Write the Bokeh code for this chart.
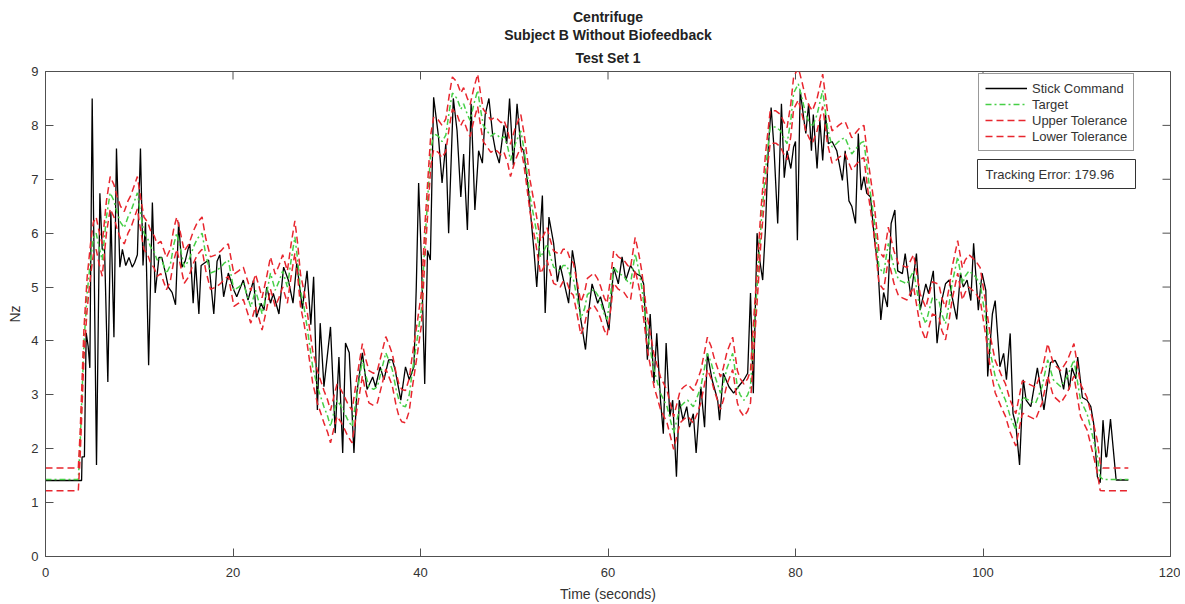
import numpy as np
from bokeh.plotting import figure
from bokeh.models import (Range1d, Title, Legend, LegendItem, Label,
                          BoxAnnotation, FixedTicker)
from bokeh.embed import file_html
from bokeh.resources import INLINE

# ---------------- data ----------------
target_t = [0, 3.5, 3.7, 4.1, 4.45, 4.8, 5.1, 5.4, 5.7, 6.05, 6.5, 6.9, 7.3, 7.6, 8.0, 8.4, 8.8, 9.1, 9.5, 9.8,
            10.2, 10.5, 10.9, 11.2, 11.6, 11.9, 12.3, 12.6, 12.9, 13.3, 13.7, 14.0, 14.4, 14.8, 15.3, 15.8,
            16.2, 16.7, 17.1, 17.6, 18.2, 18.7, 19.1, 19.5, 20.1, 20.6, 21.1, 21.5, 21.9, 22.4, 22.8, 23.1,
            23.6, 24.0, 24.5, 24.9, 25.3, 25.8, 26.2, 26.6, 26.9, 27.2, 27.6, 27.9, 28.5, 29.0, 29.7, 30.1,
            30.4, 30.8, 31.1, 31.5, 31.8, 32.2, 32.7, 33.2, 33.8, 34.1, 34.5, 35.0, 35.4, 35.9, 36.3, 36.6,
            37.0, 37.4, 37.7, 38.0, 38.4, 38.8, 39.1, 39.7, 40.1, 40.5, 41.1, 41.4, 41.9, 42.3, 42.7, 43.1,
            43.4, 43.9, 44.3, 44.6, 45.0, 45.3, 45.7, 46.1, 46.4, 46.7, 47.1, 47.5, 47.9, 48.2, 48.6, 48.9,
            49.3, 49.6, 50.1, 50.7, 51.0, 51.2, 51.7, 52.3, 52.8, 53.1, 53.5, 53.8, 54.2, 54.9, 55.2, 55.6,
            56.0, 56.3, 56.7, 57.1, 57.5, 57.8, 58.5, 58.9, 59.2, 59.6, 59.9, 60.3, 60.6, 61.1, 61.7, 62.1,
            62.4, 62.7, 62.9, 63.3, 63.6, 64.2, 64.9, 65.6, 66.3, 66.7, 67.0, 67.3, 67.7, 68.1, 68.5, 69.1,
            69.5, 69.9, 70.3, 70.6, 71.0, 71.3, 72.0, 72.3, 72.7, 73.3, 73.8, 74.1, 74.5, 74.9, 75.2, 75.5,
            75.9, 76.3, 76.8, 77.3, 77.9, 78.4, 78.8, 79.1, 79.5, 79.8, 80.3, 80.7, 81.1, 81.5, 81.8, 82.3,
            82.9, 83.4, 83.9, 84.3, 84.6, 85.0, 85.3, 85.7, 86.0, 86.6, 87.0, 87.3, 87.8, 88.4, 88.9, 89.4,
            89.9, 90.5, 91.0, 91.4, 91.9, 92.3, 92.6, 93.3, 93.9, 94.3, 94.6, 95.3, 95.6, 96.0, 96.4, 96.7,
            97.3, 97.8, 98.1, 98.5, 99.2, 99.7, 100.3, 100.8, 101.3, 101.9, 102.4, 102.9, 103.5, 103.9,
            104.2, 104.9, 105.6, 106.3, 106.9, 107.5, 108.3, 109.0, 109.7, 110.4, 111.1, 111.8, 112.2,
            112.5, 112.8, 115.5]
target_v = [1.43, 1.43, 2.1, 3.96, 4.9, 5.5, 5.9, 6.0, 5.75, 5.5, 6.3, 6.75, 6.6, 6.4, 6.2, 6.1, 6.3, 6.4, 6.6, 6.75,
            6.3, 6.0, 5.9, 5.75, 5.65, 5.5, 5.55, 5.4, 5.25, 5.4, 5.8, 6.0, 5.7, 5.37, 5.5, 5.75,
            5.9, 6.0, 5.6, 5.26, 5.3, 5.37, 5.45, 5.5, 4.94, 5.0, 5.07, 4.85, 4.63, 4.94, 4.7, 4.5,
            4.9, 5.26, 4.94, 5.1, 5.3, 5.0, 5.5, 5.93, 5.5, 4.94, 4.6, 4.26, 3.52, 3.15, 2.78, 2.6,
            2.41, 2.7, 2.9, 2.8, 2.7, 2.55, 2.41, 3.0, 3.65, 3.4, 3.15, 3.1, 3.15, 3.5, 3.78, 3.65,
            3.46, 3.1, 2.9, 2.8, 2.78, 3.0, 3.4, 4.1, 4.6, 5.93, 7.54, 7.85, 7.8, 7.7, 7.82, 8.3,
            8.6, 8.5, 8.3, 8.4, 8.2, 8.09, 8.4, 8.65, 8.3, 8.0, 7.9, 7.8, 7.85, 7.82, 7.75, 7.8,
            7.6, 7.35, 7.65, 7.9, 7.6, 7.35, 6.67, 6.1, 5.55, 5.65, 5.8, 5.6, 5.37, 5.3, 5.4, 5.4,
            5.2, 5.15, 4.8, 4.42, 4.6, 4.86, 4.96, 4.85, 4.72, 4.5, 4.4, 4.9, 5.37, 5.26, 5.2, 5.1,
            5.06, 5.4, 5.62, 5.3, 5.0, 4.14, 3.46, 3.03, 2.78, 2.5, 2.29, 2.5, 2.78, 2.85, 2.9, 2.78,
            2.95, 3.15, 3.5, 3.77, 3.6, 3.4, 3.03, 3.2, 3.5, 3.77, 3.15, 3.0, 2.9, 3.0, 3.15, 4.0,
            5.0, 6.1, 7.17, 7.97, 7.97, 7.9, 7.75, 7.66, 8.1, 8.6, 8.77, 8.5, 8.2, 8.05, 7.97, 8.2,
            8.65, 7.97, 7.6, 7.65, 7.7, 7.75, 7.77, 7.6, 7.47, 7.6, 7.68, 7.7, 6.98, 6.24, 5.37, 5.25,
            5.81, 5.37, 5.13, 5.1, 5.06, 5.2, 5.3, 4.57, 4.32, 4.6, 4.8, 4.75, 4.5, 4.32, 4.7, 5.06,
            5.56, 5.06, 5.2, 5.3, 5.19, 5.06, 4.39, 3.77, 3.34, 3.09, 2.9, 2.6, 2.35, 2.7,
            2.96, 2.9, 2.84, 3.15, 3.65, 3.28, 3.15, 3.34, 3.65, 2.9, 2.65, 2.16, 1.85,
            1.48, 1.43, 1.43]

stick_t = [0, 3.85, 3.9, 4.15, 4.34, 4.55, 4.73, 4.98, 5.44, 5.8, 6.05, 6.3, 6.65, 6.97, 7.3, 7.57, 7.93, 8.2,
           8.56, 8.9, 9.25, 9.5, 9.8, 10.13, 10.4, 10.67, 11.0, 11.4, 11.7, 12.1, 12.4, 12.8, 13.1, 13.5,
           13.87, 14.2, 14.55, 14.9, 15.2, 15.4, 15.75, 16.0, 16.36, 16.6, 17.0, 17.4, 17.95, 18.3, 18.6,
           19.0, 19.5, 20.1, 20.4, 21.1, 21.6, 22.2, 22.5, 23.0, 23.3, 23.6, 24.0, 24.3, 24.9, 25.4, 25.9,
           26.4, 26.8, 27.4, 27.9, 28.3, 28.6, 29.0, 29.3, 29.7, 30.4, 30.9, 31.3, 31.7, 32.0, 32.4, 32.9,
           33.2, 33.8, 34.3, 34.9, 35.2, 35.7, 36.1, 36.6, 37.0, 37.3, 37.9, 38.4, 38.8, 39.3, 39.55, 39.8,
           40.1, 40.45, 40.75, 41.05, 41.4, 41.9, 42.3, 42.7, 43.0, 43.5, 43.9, 44.3, 44.6, 45.0, 45.4,
           45.8, 46.2, 46.6, 46.9, 47.3, 47.7, 48.0, 48.4, 48.9, 49.2, 49.5, 49.9, 50.3, 50.7, 51.0, 51.5,
           52.1, 52.4, 53.0, 53.3, 53.7, 54.2, 54.6, 54.9, 55.5, 55.8, 56.2, 56.5, 57.1, 57.6, 57.95,
           58.3, 58.9, 59.2, 59.7, 60.1, 60.6, 61.1, 61.5, 61.9, 62.4, 62.9, 63.5, 63.8, 64.2, 64.5, 64.9,
           65.2, 65.6, 65.9, 66.2, 66.6, 66.9, 67.3, 67.6, 68.0, 68.4, 68.7, 69.1, 69.4, 69.9, 70.3, 70.6,
           71.1, 71.7, 71.9, 72.3, 72.9, 73.4, 73.9, 74.5, 74.9, 75.2, 75.5, 75.9, 76.1, 76.5, 76.8, 77.1,
           77.4, 77.7, 78.1, 78.5, 78.8, 79.1, 79.5, 79.8, 80.0, 80.2, 80.5, 80.9, 81.1, 81.4, 81.7, 81.9,
           82.3, 82.6, 82.9, 83.2, 83.5, 83.9, 84.4, 85.0, 85.3, 85.7, 86.0, 86.4, 86.7, 87.0, 87.3, 87.6,
           88.0, 88.4, 88.8, 89.1, 89.4, 89.8, 90.2, 90.6, 90.9, 91.4, 91.7, 92.3, 92.9, 93.3, 93.9, 94.2,
           94.7, 95.1, 95.6, 96.0, 96.4, 96.7, 97.2, 97.6, 97.9, 98.3, 98.7, 99.0, 99.5, 99.9, 100.3,
           100.5, 101.0, 101.3, 101.8, 102.2, 102.5, 102.9, 103.2, 103.5, 103.9, 104.3, 104.6, 105.1,
           105.8, 106.5, 107.2, 107.7, 108.1, 108.6, 108.9, 109.2, 109.5, 109.9, 110.1, 110.6, 111.1,
           111.5, 111.8, 112.2, 112.5, 112.8, 113.1, 113.2, 113.6, 114.2, 115.5]
stick_v = [1.41, 1.41, 1.85, 1.85, 4.15, 3.9, 3.5, 8.5, 1.7, 6.74, 5.7, 5.7, 3.24, 6.4, 4.07, 7.57, 5.37, 5.7,
           5.4, 5.55, 5.37, 5.45, 5.6, 7.57, 5.4, 6.2, 3.55, 6.57, 4.89, 5.55, 5.55, 5.26, 5.0, 4.9,
           4.67, 6.2, 5.37, 5.48, 5.7, 5.8, 4.7, 5.48, 4.5, 5.4, 5.45, 5.5, 4.5, 5.48, 5.6,
           4.82, 5.26, 4.94, 4.82, 5.13, 4.76, 5.13, 4.44, 4.7, 4.57, 5.0, 4.7, 4.88, 4.5, 5.37, 5.13,
           4.7, 5.44, 4.6, 5.3, 4.3, 5.19, 2.72, 4.33, 3.15, 4.26, 2.29, 3.7, 1.92, 3.96, 3.78, 1.92,
           3.03, 3.78, 3.1, 3.33, 3.15, 3.52, 3.28, 3.65, 3.65, 3.46, 2.9, 3.52, 3.28, 3.52, 5.0, 6.93,
           5.5, 3.2, 5.68, 5.5, 8.52, 7.82, 6.93, 7.66, 6.0, 8.5, 7.9, 6.67, 7.47, 6.06, 8.4,
           6.43, 7.53, 7.3, 8.2, 8.5, 7.82, 7.53, 7.3, 8.0, 7.66, 8.5, 7.26, 8.4, 7.6, 7.53, 6.82,
           5.68, 5.0, 6.7, 4.52, 6.3, 5.81, 5.1, 5.4, 4.94, 4.7, 5.68, 5.37, 4.4, 3.84, 4.57,
           5.06, 4.7, 4.82, 4.5, 4.2, 5.37, 5.06, 5.56, 5.13, 5.4, 5.26, 5.2, 5.06, 3.65, 4.5, 3.22,
           4.14, 2.9, 2.28, 3.96, 2.6, 2.9, 1.48, 2.9, 2.53, 2.78, 2.4, 2.65, 1.92, 3.15, 2.4, 3.77,
           3.28, 2.9, 2.53, 3.4, 3.15, 3.03, 3.15, 3.28, 3.4, 4.89, 3.03, 6.0, 5.6, 5.13, 6.1, 7.6,
           8.33, 7.6, 6.18, 8.4, 7.03, 7.53, 7.2, 7.6, 7.7, 5.87, 8.65, 8.1, 7.85, 8.4, 7.53, 8.2,
           7.2, 8.1, 7.35, 8.2, 7.66, 7.7, 7.53, 6.98, 7.53, 6.6, 6.5, 6.18, 7.85, 6.8, 7.05, 6.74,
           6.67, 5.93, 5.37, 4.39, 4.9, 4.63, 6.18, 6.43, 5.3, 5.25, 5.62, 4.82, 5.62, 4.57, 5.06, 4.88,
           5.3, 3.96, 4.75, 5.06, 5.13, 4.82, 4.4, 5.26, 5.0, 5.13, 4.75, 5.81, 4.57, 5.26, 4.94,
           3.34, 4.5, 4.75, 3.52, 3.77, 3.28, 4.14, 2.65, 2.45, 1.7, 3.28, 2.9, 2.78,
           3.5, 2.72, 3.6, 3.64, 3.5, 3.1, 3.5, 3.1, 3.5, 3.3, 3.7, 2.95, 2.9,
           2.78, 2.47, 1.48, 1.37, 2.53, 1.85, 1.85, 2.55, 1.42, 1.42]

# half-width of the tolerance band, read at a few times
tol_t = [0, 3.5, 4.5, 112.2, 112.8, 115.5]
tol_v = [0.21, 0.21, 0.3, 0.3, 0.21, 0.21]

x_ticks = [0, 20, 40, 60, 80, 100, 120]
y_ticks = [0, 1, 2, 3, 4, 5, 6, 7, 8, 9]

title_lines = ["Centrifuge", "Subject B Without Biofeedback", "Test Set 1"]
legend_labels = ["Stick Command", "Target", "Upper Tolerance", "Lower Tolerance"]
tracking_text = "Tracking Error: 179.96"

# ---------------- derived ----------------
tt = np.array(target_t)
tv = np.array(target_v)
band = np.interp(tt, tol_t, tol_v)
upper_v = tv + band
lower_v = tv - band

FONT = "Liberation Sans"
AX = "#505050"
TXT = "#333333"

X0, X1 = 0, 120
Y0, Y1 = 0, 9

p = figure(width=1180, height=604, x_range=Range1d(X0, X1), y_range=Range1d(Y0, Y1),
           output_backend="svg", toolbar_location=None,
           min_border_left=45, min_border_right=10, min_border_top=71, min_border_bottom=48)
p.background_fill_color = "white"
p.border_fill_color = "white"
p.outline_line_color = AX
p.xgrid.visible = False
p.ygrid.visible = False

for ax, ticks in ((p.xaxis[0], x_ticks), (p.yaxis[0], y_ticks)):
    ax.ticker = FixedTicker(ticks=ticks)
    ax.major_tick_in = 8
    ax.major_tick_out = 0
    ax.minor_tick_in = 0
    ax.minor_tick_out = 0
    ax.axis_line_color = AX
    ax.major_tick_line_color = AX
    ax.major_label_text_font = FONT
    ax.major_label_text_font_size = "13px"
    ax.major_label_text_color = TXT
    ax.axis_label_text_font = FONT
    ax.axis_label_text_font_size = "14px"
    ax.axis_label_text_font_style = "normal"
    ax.axis_label_text_color = TXT

p.xaxis.axis_label = "Time (seconds)"
p.yaxis.axis_label = "Nz"
p.xaxis.major_label_standoff = 11
p.xaxis.axis_label_standoff = 6
p.yaxis.major_label_standoff = 7
p.yaxis.axis_label_standoff = 5

# mirrored inward ticks on the top and right edges (box on); half of each dash is clipped by the frame
p.scatter(x_ticks, [Y1] * len(x_ticks), marker="dash", size=16, angle=np.pi / 2,
          line_color=AX, line_width=1)
p.scatter([X1] * len(y_ticks), y_ticks, marker="dash", size=16,
          line_color=AX, line_width=1)

# three-line bold title (added nearest-to-frame first)
for i, line in enumerate(reversed(title_lines)):
    p.add_layout(Title(text=line, align="center", text_font=FONT, text_font_size="14px",
                       text_font_style="bold", text_color="#222222",
                       standoff=11 if i == 0 else 0), "above")

r_stick = p.line(stick_t, stick_v, line_color="black", line_width=1.3)
r_target = p.line(target_t, target_v, line_color="#46cf46", line_width=1.5, line_dash="6 3 2 3")
r_upper = p.line(target_t, upper_v, line_color="#e8262e", line_width=1.5, line_dash="7 4")
r_lower = p.line(target_t, lower_v, line_color="#e8262e", line_width=1.5, line_dash="7 4")

legend = Legend(items=[LegendItem(label=legend_labels[0], renderers=[r_stick]),
                       LegendItem(label=legend_labels[1], renderers=[r_target]),
                       LegendItem(label=legend_labels[2], renderers=[r_upper]),
                       LegendItem(label=legend_labels[3], renderers=[r_lower])],
                location=(933, 405), orientation="vertical")
legend.label_text_font = FONT
legend.label_text_font_size = "13px"
legend.label_text_color = TXT
legend.glyph_width = 42
legend.glyph_height = 16
legend.label_height = 16
legend.spacing = 0
legend.padding = 6
legend.margin = 0
legend.label_standoff = 5
legend.border_line_color = "#333333"
legend.border_line_width = 1
legend.background_fill_alpha = 1
p.add_layout(legend)

p.add_layout(BoxAnnotation(left=932, right=1090, top=397, bottom=368,
                           left_units="screen", right_units="screen",
                           top_units="screen", bottom_units="screen",
                           fill_color="white", fill_alpha=1,
                           line_color="#333333", line_width=1, line_alpha=1))
p.add_layout(Label(x=940, y=382.5, x_units="screen", y_units="screen", text=tracking_text,
                   text_font=FONT, text_font_size="13px", text_color=TXT,
                   text_baseline="middle", text_align="left"))

open("out.html", "w").write(file_html(p, INLINE))
